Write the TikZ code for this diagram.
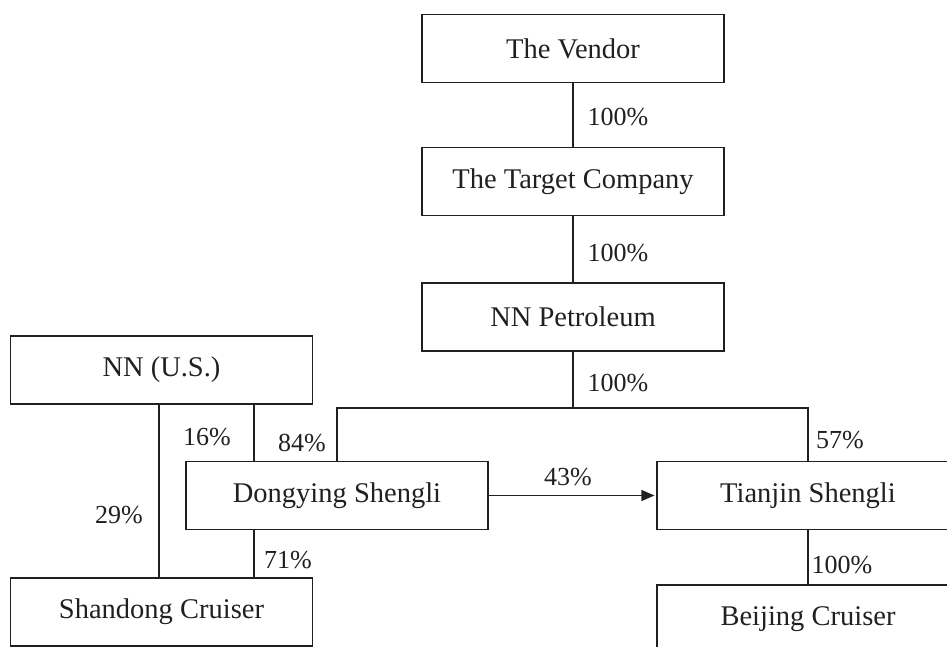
\documentclass[tikz,border=0pt]{standalone}
\usepackage{fontspec}
\setmainfont{Liberation Serif}
\usetikzlibrary{arrows.meta}
\definecolor{ink}{HTML}{231F20}
\begin{document}
\begin{tikzpicture}[x=1pt,y=-1pt,
  box/.style={draw=ink,line width=1.2pt,minimum width=302pt,minimum height=68pt,inner sep=0pt,text=ink,font=\fontsize{28.5}{31}\selectfont},
  pct/.style={text=ink,inner sep=0pt,font=\fontsize{26}{29}\selectfont},
  link/.style={draw=ink,line width=1.2pt},
  tip/.style={-{Triangle[length=13pt,width=11pt]}}]
\useasboundingbox (0,0) rectangle (947,647);
\clip (0,0) rectangle (947,647);
\node[box] (vendor) at (573,48.5) {The Vendor};
\node[box] (target) at (573,181.5) {The Target Company};
\node[box] (nnp) at (573,317) {NN Petroleum};
\node[box] (nnus) at (161.5,370) {NN (U.S.)};
\node[box] (dong) at (337,495.5) {Dongying Shengli};
\node[box] (tian) at (808,495.5) {Tianjin Shengli};
\node[box] (shan) at (161.5,612) {Shandong Cruiser};
\node[box] (bei) at (808,619) {Beijing Cruiser};
\coordinate (bus) at (573,408);
\coordinate (c254) at (254,0);
\coordinate (c159) at (159,0);
\draw[link] (vendor) -- (target);
\draw[link] (target) -- (nnp);
\draw[link] (nnp.south) -- (bus);
\draw[link] (bus) -| (dong.north);
\draw[link] (bus) -| (tian.north);
\draw[link] (nnus.south -| c159) -- (shan.north -| c159);
\draw[link] (nnus.south -| c254) -- (dong.north -| c254);
\draw[link] (dong.south -| c254) -- (shan.north -| c254);
\draw[link] (tian.south) -- (bei.north);
\draw[link,tip,shorten >=2pt] (dong.east) -- (tian.west);
\node[pct] (p1) at (618,117) {100\%};
\node[pct] (p2) at (618,253) {100\%};
\node[pct] (p3) at (618,383) {100\%};
\node[pct] (p4) at (302,443) {84\%};
\node[pct] (p5) at (840,440) {57\%};
\node[pct] (p6) at (207,437) {16\%};
\node[pct] (p7) at (119,515) {29\%};
\node[pct] (p8) at (288,560) {71\%};
\node[pct] (p9) at (568,477) {43\%};
\node[pct] (p10) at (842,565) {100\%};
\end{tikzpicture}
\end{document}
